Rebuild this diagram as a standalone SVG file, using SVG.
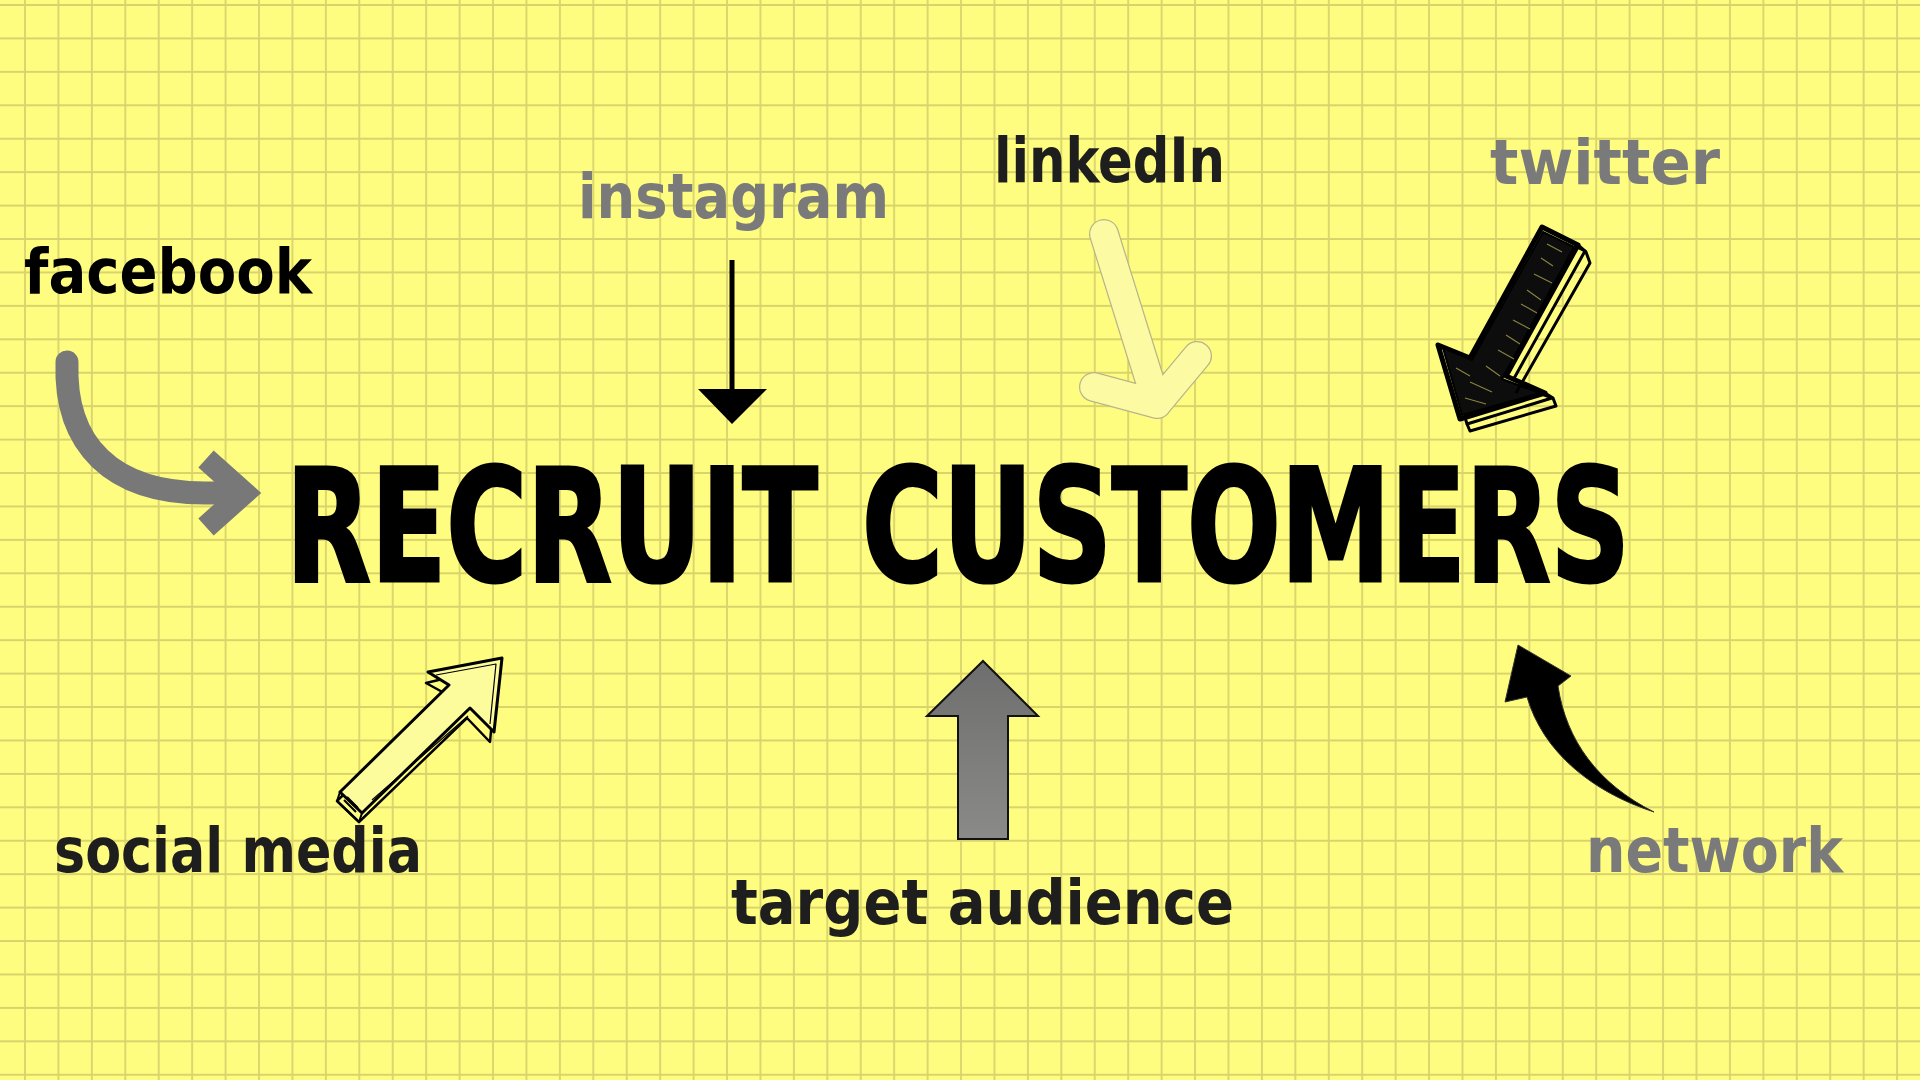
<svg xmlns="http://www.w3.org/2000/svg" width="1920" height="1080" viewBox="0 0 1920 1080">
  <defs>
    <pattern id="grid" patternUnits="userSpaceOnUse" x="8.285" y="-11.715" width="33.43" height="33.43">
      <path d="M16.715,0 V33.43 M0,16.715 H33.43" stroke="#D9D36C" stroke-width="1.8" fill="none"/>
    </pattern>
    <linearGradient id="grayGrad" x1="0" y1="0" x2="0" y2="1">
      <stop offset="0" stop-color="#6e6e6e"/>
      <stop offset="1" stop-color="#8a8a88"/>
    </linearGradient>
    <style>
      .lbl { font-family: "DejaVu Sans Condensed", "DejaVu Sans", sans-serif; font-stretch: condensed; font-weight: bold; font-size: 62px; }
      .dark { fill: #1e1e1e; }
      .black { fill: #000000; }
      .gray { fill: #7a7a7a; }
      .title { font-family: "DejaVu Sans Condensed", "DejaVu Sans", sans-serif; font-stretch: condensed; font-weight: bold; font-size: 120px; word-spacing: 6px; fill: #000; stroke: #000; stroke-width: 2.4; stroke-linejoin: miter; }
    </style>
  </defs>

  <rect x="0" y="0" width="1920" height="1080" fill="#FEFD80"/>
  <rect x="0" y="0" width="1920" height="1080" fill="url(#grid)"/>

  <g id="connectors">
    <!-- facebook curved gray arrow -->
    <g id="arrow-facebook">
      <path d="M67,362 C64,445 112,493 205,493 L232,493" fill="none" stroke="#787878" stroke-width="23" stroke-linecap="round"/>
      <path d="M206,459 L244,493 L206,527" fill="none" stroke="#787878" stroke-width="23" stroke-linejoin="miter" stroke-linecap="butt"/>
    </g>
    <!-- instagram straight black arrow -->
    <g id="arrow-instagram">
      <line x1="732" y1="260" x2="732" y2="392" stroke="#000" stroke-width="5"/>
      <polygon points="698,389 767,389 732,424" fill="#000"/>
    </g>
    <!-- linkedin pale arrow -->
    <g id="arrow-linkedin" fill="none" stroke-linecap="round" stroke-linejoin="round">
      <path d="M1104,234 L1157,404 M1094,387 L1157,404 L1197,356" stroke="#b9b58a" stroke-width="30"/>
      <path d="M1104,234 L1157,404 M1094,387 L1157,404 L1197,356" stroke="#FCFBA4" stroke-width="27.5"/>
    </g>
    <!-- twitter sketchy black arrow -->
    <g id="arrow-twitter" stroke="#000" stroke-linejoin="round">
      <polygon points="1549,233 1585,251 1512,382 1552,398 1467,424 1445,351 1477,364" fill="#FEFD80" stroke-width="3"/>
      <polygon points="1542,227 1578,245 1506,376 1545,393 1460,419 1438,345 1470,358" fill="#FEFD80" stroke-width="5"/>
      <polygon points="1543,232 1574,247 1502,379 1540,393 1462,415 1443,348 1472,360" fill="#0d0d0d" stroke-width="2"/>
      <path d="M1547,244 L1562,252 M1541,258 L1553,266 M1534,274 L1552,283 M1527,290 L1541,300 M1521,304 L1537,313 M1513,320 L1530,329 M1506,335 L1520,344 M1498,350 L1514,359 M1486,366 L1500,376 M1470,382 L1492,392 M1465,398 L1486,404 M1456,368 L1470,376" stroke="#8a8440" stroke-width="1.1" fill="none"/>
      <path d="M1578,245 L1586,252 L1590,263 L1516,393 M1545,393 L1553,398 L1556,406 L1470,431 L1467,424" fill="none" stroke-width="3"/>
    </g>
    <!-- social media sketchy outline arrow -->
    <g id="arrow-social" stroke="#000" stroke-linejoin="round">
      <polygon points="497,666 490,742 467,718 359,822 337,801 446,694 426,683" fill="#FEFD80" stroke-width="2.5"/>
      <polygon points="502,658 494,732 470,708 362,813 340,792 449,685 428,672" fill="#FDFC9C" stroke-width="3"/>
      <path d="M340,792 L337,801 L359,822 L362,813 M344,800 L356,812 M347,797 L358,808" fill="none" stroke-width="2"/>
      <path d="M436,675 L496,664 L490,724" fill="none" stroke-width="1.2"/>
      <path d="M372,800 L468,716" fill="none" stroke-width="1.2"/>
    </g>
    <!-- target audience gray block arrow -->
    <g id="arrow-target">
      <polygon points="983,661 1038,716 1008,716 1008,839 958,839 958,716 927,716" fill="url(#grayGrad)" stroke="#111" stroke-width="2"/>
    </g>
    <!-- network curved black arrow -->
    <g id="arrow-network">
      <path d="M1518,645 L1571,676 L1558,686 C1566,740 1598,784 1654,812 C1592,792 1543,752 1527,697 L1505,702 Z" fill="#000" stroke="#333" stroke-width="1"/>
    </g>
  </g>

  <g id="node-title">
    <text class="title" transform="translate(286,581) scale(1,1.3)" x="0" y="0" textLength="1344" lengthAdjust="spacingAndGlyphs">RECRUIT CUSTOMERS</text>
  </g>
  <g id="node-facebook"><text class="lbl black" x="24" y="293" textLength="288" lengthAdjust="spacingAndGlyphs">facebook</text></g>
  <g id="node-instagram"><text class="lbl gray" x="578" y="218" textLength="311" lengthAdjust="spacingAndGlyphs">instagram</text></g>
  <g id="node-linkedin"><text class="lbl dark" x="994" y="182" textLength="231" lengthAdjust="spacingAndGlyphs">linkedIn</text></g>
  <g id="node-twitter"><text class="lbl gray" x="1490" y="184" textLength="230" lengthAdjust="spacingAndGlyphs">twitter</text></g>
  <g id="node-social"><text class="lbl dark" x="54" y="872" textLength="368" lengthAdjust="spacingAndGlyphs">social media</text></g>
  <g id="node-target"><text class="lbl dark" x="731" y="924" textLength="503" lengthAdjust="spacingAndGlyphs">target audience</text></g>
  <g id="node-network"><text class="lbl gray" x="1586" y="872" textLength="257" lengthAdjust="spacingAndGlyphs">network</text></g>
</svg>
